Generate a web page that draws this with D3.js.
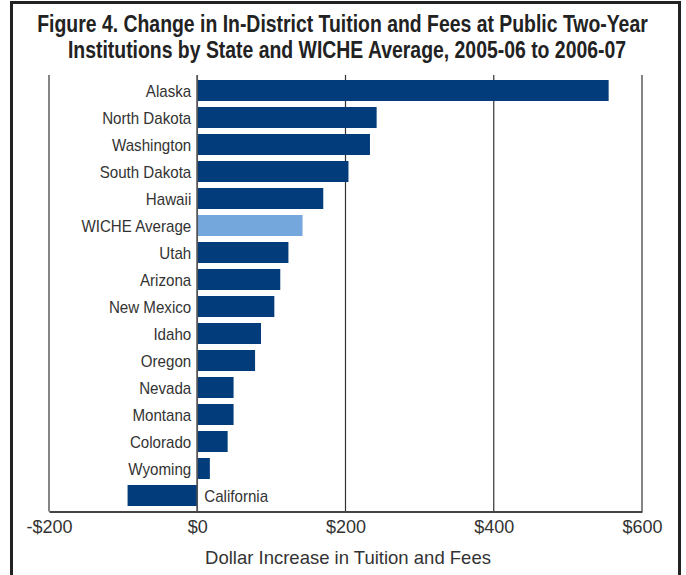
<!DOCTYPE html>
<html>
<head>
<meta charset="utf-8">
<script src="https://cdn.jsdelivr.net/npm/d3@7"></script>
<style>
  html, body { margin: 0; padding: 0; background: #fff; }
  svg { display: block; }
  text { font-family: "Liberation Sans", Arial, sans-serif; fill: #333; }
</style>
</head>
<body>
<svg id="chart" width="686" height="575"></svg>
<script>
const titleLines = [
  "Figure 4. Change in In-District Tuition and Fees at Public Two-Year",
  "Institutions by State and WICHE Average, 2005-06 to 2006-07"
];
const categories = ["Alaska", "North Dakota", "Washington", "South Dakota", "Hawaii",
  "WICHE Average", "Utah", "Arizona", "New Mexico", "Idaho", "Oregon", "Nevada",
  "Montana", "Colorado", "Wyoming", "California"];
const values = [555, 242, 233, 204, 170, 142, 123, 112, 104, 86, 78, 49, 49, 41, 17, -94];
const highlight = ["WICHE Average"];
const tickValues = [-200, 0, 200, 400, 600];
const tickLabels = ["-$200", "$0", "$200", "$400", "$600"];
const axisTitle = "Dollar Increase in Tuition and Fees";

const svg = d3.select("#chart");

// outer frame
svg.append("rect")
  .attr("x", 11.5).attr("y", 2.5).attr("width", 668).attr("height", 590)
  .attr("fill", "none").attr("stroke", "#222").attr("stroke-width", 3);

// title (condensed look via horizontal scaling)
const titleCenters = [342.5, 347];
const titleG = svg.append("g");
const tNodes = titleG.selectAll("g").data(titleLines).join("g")
  .attr("transform", (d, i) => `translate(${titleCenters[i]},${31.5 + i * 26.5})`);
tNodes.append("text")
  .attr("text-anchor", "middle")
  .attr("font-size", 23).attr("font-weight", "bold")
  .style("fill", "#222")
  .text(d => d);
const w0 = tNodes.select("text").node().getComputedTextLength();
const tsx = 611 / w0;
tNodes.select("text").attr("transform", `scale(${tsx},1)`);

const plotTop = 75, plotBottom = 511.5;
const x = d3.scaleLinear().domain([-200, 600]).range([49, 642]);
const y = d3.scaleBand().domain(categories).range([77, 509])
  .paddingInner(0.222).paddingOuter(0.111);

// grid lines
svg.append("g").selectAll("line").data(tickValues).join("line")
  .attr("x1", d => x(d)).attr("x2", d => x(d))
  .attr("y1", plotTop).attr("y2", plotBottom)
  .attr("stroke", "#333")
  .attr("stroke-width", 1.2);

// bars
svg.append("g").selectAll("rect").data(categories).join("rect")
  .attr("x", (d, i) => x(Math.min(0, values[i])))
  .attr("width", (d, i) => Math.abs(x(values[i]) - x(0)))
  .attr("y", d => y(d))
  .attr("height", y.bandwidth())
  .attr("fill", d => highlight.includes(d) ? "#74a8dc" : "#033c7a");

// zero line on top
svg.append("line")
  .attr("x1", x(0)).attr("x2", x(0)).attr("y1", plotTop).attr("y2", plotBottom)
  .attr("stroke", "#555").attr("stroke-width", 1.6);

// category labels (condensed)
const lsx = 0.89;
svg.append("g").selectAll("g").data(categories).join("g")
  .attr("transform", (d, i) => `translate(${values[i] < 0 ? x(0) + 7 : x(0) - 6},${y(d) + y.bandwidth() / 2}) scale(${lsx},1)`)
  .append("text")
  .attr("dy", "0.36em")
  .attr("text-anchor", d => values[categories.indexOf(d)] < 0 ? "start" : "end")
  .attr("font-size", 17)
  .text(d => d);

// x axis
const axis = d3.axisBottom(x).tickValues(tickValues)
  .tickFormat((d, i) => tickLabels[i]).tickSize(0).tickPadding(0);
const gx = svg.append("g").attr("transform", `translate(0,${plotBottom})`).call(axis);
gx.select(".domain").attr("stroke", "#444").attr("stroke-width", 2.2);
gx.selectAll("text")
  .attr("y", 21.5).attr("dy", 0)
  .attr("font-size", 18)
  .style("font-family", "\"Liberation Sans\", Arial, sans-serif")
  .attr("fill", "#333");

svg.append("text")
  .attr("x", 348).attr("y", 564)
  .attr("text-anchor", "middle")
  .attr("font-size", 18.5)
  .text(axisTitle);
</script>
</body>
</html>
